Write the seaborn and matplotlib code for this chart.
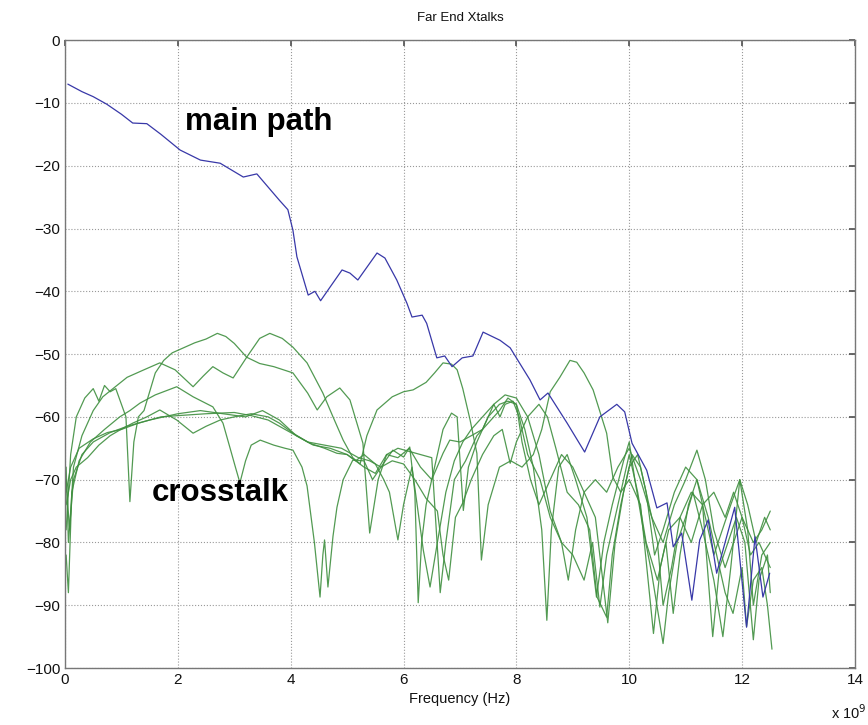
import matplotlib
matplotlib.use("Agg")
import matplotlib.pyplot as plt
import pandas as pd
import seaborn as sns

# main path (blue), frequency in units of 1e9 Hz, magnitude in dB
main_x = [0.05, 0.3, 0.5, 0.74, 1.0, 1.2, 1.45, 1.7, 2.04, 2.4, 2.75, 3.16, 3.4, 3.8,
          3.95, 4.04, 4.11, 4.31, 4.43, 4.53, 4.7, 4.91, 5.05, 5.19, 5.53, 5.67, 5.88,
          6.06, 6.15, 6.33, 6.41, 6.59, 6.73, 6.86, 7.04, 7.23, 7.41, 7.71, 7.89, 8.24,
          8.42, 8.56, 8.9, 9.21, 9.48, 9.78, 9.92, 10.05, 10.31, 10.49, 10.67, 10.78,
          10.93, 11.11, 11.25, 11.4, 11.55, 11.87, 12.08, 12.23, 12.37, 12.49]
main_y = [-7, -8.2, -9.0, -10.2, -11.8, -13.2, -13.3, -15, -17.5, -19.1, -19.6, -21.8,
          -21.3, -25.5, -27, -30.3, -34.5, -40.6, -40, -41.5, -39.3, -36.6, -37.1, -38.2,
          -33.9, -34.7, -38.2, -41.9, -44.1, -43.8, -45.1, -50.6, -50.3, -52, -50.6,
          -50.3, -46.5, -47.8, -49, -54.1, -57.3, -56.2, -61, -65.6, -60, -58, -59.2,
          -64.2, -68.5, -74.5, -73.7, -80.7, -78.5, -89.2, -79.6, -76.4, -84.9, -74.4,
          -93.5, -79.1, -88.7, -84.9]

# crosstalk curves (green)
xt1_x = [0.02, 0.1, 0.2, 0.35, 0.5, 0.6, 0.7, 0.8, 0.9, 1.0, 1.08, 1.15, 1.22, 1.3, 1.4,
         1.5, 1.6, 1.75, 1.9, 2.1, 2.3, 2.5, 2.7, 2.85, 3.0, 3.22, 3.45, 3.7, 4.04, 4.3,
         4.47, 4.64, 4.87, 5.05, 5.28, 5.4, 5.55, 5.7, 5.9, 6.1, 6.3, 6.5, 6.7, 6.82, 7.0,
         7.2, 7.4, 7.6, 7.8, 8.0, 8.2, 8.4, 8.6, 8.8, 8.92, 9.05, 9.2, 9.4, 9.6, 9.8,
         10.0, 10.2, 10.4, 10.6, 10.8, 11.0, 11.2, 11.35, 11.5, 11.7, 11.85, 12.0, 12.2,
         12.35, 12.5]
xt1_y = [-78, -66, -60, -57, -55.5, -57.5, -55, -56, -55.5, -58, -60, -73.5, -64, -60,
         -59, -56, -53, -51, -49.8, -49, -48.2, -47.6, -46.7, -47.2, -48.3, -50.5, -51.5,
         -52, -53, -56.2, -58.9, -56.8, -55.4, -57.3, -64.2, -78.5, -70, -66, -66.5, -65,
         -68, -70, -65.8, -63.7, -64, -63, -62, -58, -56.5, -57, -60, -66, -75, -80, -86,
         -78, -72, -70, -72, -68, -65, -70, -76, -80, -74, -70, -65.3, -70, -78, -84, -80,
         -76, -80, -78, -75]

xt2_x = [0.02, 0.08, 0.15, 0.3, 0.5, 0.67, 0.85, 1.1, 1.4, 1.68, 1.95, 2.27, 2.45, 2.62,
         2.8, 2.98, 3.22, 3.45, 3.63, 3.85, 4.04, 4.29, 4.57, 4.75, 4.93, 5.1, 5.23, 5.35,
         5.53, 5.8, 6.0, 6.17, 6.4, 6.55, 6.7, 6.85, 6.95, 7.05, 7.18, 7.3, 7.38, 7.5, 7.7,
         7.9, 8.1, 8.3, 8.45, 8.6, 8.77, 8.95, 9.07, 9.2, 9.36, 9.6, 9.71, 9.85, 10.0,
         10.2, 10.43, 10.55, 10.7, 10.9, 11.1, 11.3, 11.5, 11.7, 11.85, 12.0, 12.15, 12.3,
         12.5]
xt2_y = [-70, -78, -68, -63, -59, -56.8, -55.5, -53.7, -52.5, -51.4, -52.5, -55.2, -53.5,
         -52, -53, -53.8, -50.5, -47.5, -46.7, -47.5, -48.9, -51.4, -56.2, -60, -63.7,
         -66.5, -67.5, -63, -58.9, -56.8, -56, -55.7, -54.5, -53, -51.4, -51.6, -52.5,
         -55.5, -60.5, -65.8, -82.8, -74, -68, -67, -68, -66, -62, -56, -53.7, -51, -51.3,
         -53, -55.7, -62.6, -69.6, -72, -70, -74, -94.5, -84, -78, -76, -80, -74, -72, -76,
         -72, -76, -82, -80, -84]

xt3_x = [0.02, 0.06, 0.12, 0.25, 0.45, 0.7, 0.97, 1.15, 1.33, 1.6, 1.98, 2.27, 2.62, 2.8,
         2.92, 3.02, 3.1, 3.2, 3.3, 3.46, 3.7, 3.9, 4.04, 4.2, 4.29, 4.42, 4.52, 4.57, 4.6,
         4.66, 4.75, 4.82, 4.93, 5.1, 5.3, 5.45, 5.6, 5.81, 6.0, 6.11, 6.2, 6.26, 6.32,
         6.4, 6.55, 6.7, 6.85, 6.95, 7.06, 7.15, 7.3, 7.5, 7.7, 7.85, 8.0, 8.15, 8.3, 8.45,
         8.54, 8.62, 8.75, 8.9, 9.05, 9.25, 9.42, 9.55, 9.7, 9.9, 10.0, 10.1, 10.25, 10.4,
         10.6, 10.7, 10.85, 11.0, 11.13, 11.3, 11.5, 11.66, 11.8, 11.96, 12.1, 12.2, 12.35,
         12.5]
xt3_y = [-82, -88, -72, -67, -64, -62, -60, -59, -57.8, -56.5, -55.2, -56.8, -58.4, -61,
         -64.8, -68, -70.5, -67, -64.5, -63.7, -64.5, -65, -65.3, -68, -71, -80, -88.7,
         -82, -79.6, -87.1, -79, -74.4, -70, -66.9, -67, -70, -68, -65.3, -66.4, -64.8,
         -72, -89.6, -80, -74, -68, -62, -59.4, -60, -74.9, -68, -64, -60, -58, -57.5, -58,
         -62, -68, -78, -92.4, -78, -68, -66, -70, -76, -88.7, -80, -74, -67, -64, -70,
         -78, -85, -96.1, -88, -80, -76, -72, -78, -86, -95, -84, -70, -78, -90, -82, -80]

xt4_x = [0.02, 0.1, 0.2, 0.4, 0.6, 0.8, 0.97, 1.2, 1.45, 1.68, 1.98, 2.27, 2.5, 2.75, 3.0,
         3.3, 3.6, 3.8, 4.04, 4.34, 4.6, 4.82, 5.0, 5.15, 5.3, 5.5, 5.65, 5.75, 5.9, 6.0,
         6.15, 6.35, 6.47, 6.6, 6.75, 6.9, 7.05, 7.2, 7.4, 7.6, 7.71, 7.8, 7.94, 8.05, 8.2,
         8.42, 8.6, 8.8, 9.0, 9.2, 9.35, 9.48, 9.6, 9.75, 9.9, 10.0, 10.15, 10.3, 10.5,
         10.65, 10.78, 10.9, 11.05, 11.2, 11.4, 11.55, 11.7, 11.84, 12.0, 12.08, 12.2,
         12.35, 12.45, 12.53]
xt4_y = [-74, -70, -68, -66.5, -64.5, -63, -62.1, -61, -60, -58.9, -60.5, -62.6, -61.5,
         -60.5, -60, -59.5, -60, -61, -62.6, -64.2, -65, -65.8, -66, -67, -66, -67.5, -70,
         -72, -79.6, -74, -68, -81.2, -87.1, -80, -72, -67, -64, -62, -60, -58, -60, -58,
         -57.5, -60, -66, -70, -76, -80, -82, -86, -80, -90.3, -82, -76, -70, -66, -72,
         -80, -86, -80, -91.3, -82, -74, -70, -76, -82, -88, -91.3, -84, -93.4, -86, -84,
         -90, -97]

xt5_x = [0.02, 0.1, 0.25, 0.5, 0.75, 1.0, 1.3, 1.7, 2.0, 2.5, 3.0, 3.3, 3.6, 3.9, 4.1,
         4.3, 4.6, 4.9, 5.2, 5.4, 5.6, 5.8, 6.0, 6.2, 6.4, 6.6, 6.7, 6.8, 6.92, 7.05, 7.2,
         7.4, 7.6, 7.75, 7.89, 8.0, 8.2, 8.4, 8.55, 8.7, 8.9, 9.1, 9.3, 9.43, 9.6, 9.7,
         9.85, 10.0, 10.15, 10.3, 10.45, 10.6, 10.8, 11.0, 11.2, 11.35, 11.5, 11.65, 11.8,
         11.96, 12.1, 12.25, 12.4, 12.5]
xt5_y = [-72, -68, -65, -63.5, -62.5, -62, -61, -60, -59.8, -59.5, -59.3, -59.8, -60.5,
         -62, -63, -64, -64.5, -65, -66.5, -67, -68, -67, -67.5, -70, -73, -75, -82, -86,
         -76, -73.7, -70, -66, -63, -62, -67.4, -64, -60, -58, -60, -65, -72, -74, -78,
         -88.7, -91.9, -82, -74, -68, -66, -72, -82, -78, -72, -68, -70, -76, -82, -78,
         -74, -70, -74, -80, -76, -78]

xt6_x = [0.02, 0.06, 0.15, 0.3, 0.5, 0.8, 1.1, 1.5, 2.0, 2.4, 2.8, 3.2, 3.5, 3.8, 4.1,
         4.4, 4.7, 5.0, 5.3, 5.5, 5.7, 5.9, 6.1, 6.3, 6.5, 6.65, 6.75, 6.9, 7.1, 7.3, 7.5,
         7.7, 7.85, 8.0, 8.1, 8.25, 8.4, 8.6, 8.8, 9.0, 9.2, 9.4, 9.62, 9.75, 9.9, 10.05,
         10.2, 10.35, 10.5, 10.6, 10.75, 10.9, 11.1, 11.3, 11.48, 11.6, 11.75, 11.9, 12.05,
         12.2, 12.3, 12.45, 12.5]
xt6_y = [-68, -80, -70, -66, -64, -62.5, -61.5, -60.5, -59.5, -59, -59.5, -60, -59, -60.5,
         -63, -64.5, -65, -66, -68, -69, -66, -65, -65.5, -66, -66.5, -88, -80, -70, -67,
         -63, -61, -59, -57, -58, -64, -70, -74, -70, -66, -68, -72, -76, -92.8, -80, -72,
         -66, -68, -74, -80, -90, -84, -76, -72, -74, -95, -84, -80, -76, -80, -95.5, -86,
         -82, -88]

crosstalk = [(xt1_x, xt1_y), (xt2_x, xt2_y), (xt3_x, xt3_y),
             (xt4_x, xt4_y), (xt5_x, xt5_y), (xt6_x, xt6_y)]

sns.set_theme(style="white")
plt.rcParams["font.family"] = ["Liberation Sans", "DejaVu Sans"]

fig = plt.figure(figsize=(8.68, 7.25), dpi=100)
ax = fig.add_axes([0.0749, 0.0786, 0.910, 0.866])

for xs, ys in crosstalk:
    df = pd.DataFrame({"freq": xs, "mag": ys})
    sns.lineplot(data=df, x="freq", y="mag", ax=ax, color="#3f8f3f", alpha=0.9,
                 linewidth=0.9, estimator=None, sort=False)

df_main = pd.DataFrame({"freq": main_x, "mag": main_y})
sns.lineplot(data=df_main, x="freq", y="mag", ax=ax, color="#3838a8",
             linewidth=0.9, estimator=None, sort=False)

ax.set_xlim(0, 14)
ax.set_ylim(-100, 0)
ax.set_xticks(range(0, 15, 2))
ax.set_yticks(range(-100, 1, 10))
ax.grid(True, linestyle=":", color="#999999", linewidth=0.8)
ax.tick_params(direction="in", length=4, labelsize=11, top=True, right=True,
               color="#555555", labelcolor="#111111")
for sp in ax.spines.values():
    sp.set_color("#777777")
    sp.set_linewidth(1.0)

ax.set_title("Far End Xtalks", fontsize=9.5, color="#111111", pad=14)
ax.set_xlabel("Frequency (Hz)", fontsize=10.5, color="#111111", labelpad=4)
ax.set_ylabel("")
fig.text(0.957, 0.008, r"x 10$^9$", fontsize=10.5, color="#111111")

ax.text(2.13, -13.1, "main path", fontsize=22.5, fontweight="bold", va="center",
        color="black")
ax.text(1.54, -72.1, "crosstalk", fontsize=22.5, fontweight="bold", va="center",
        color="black")

fig.savefig("out.png", dpi=100)
